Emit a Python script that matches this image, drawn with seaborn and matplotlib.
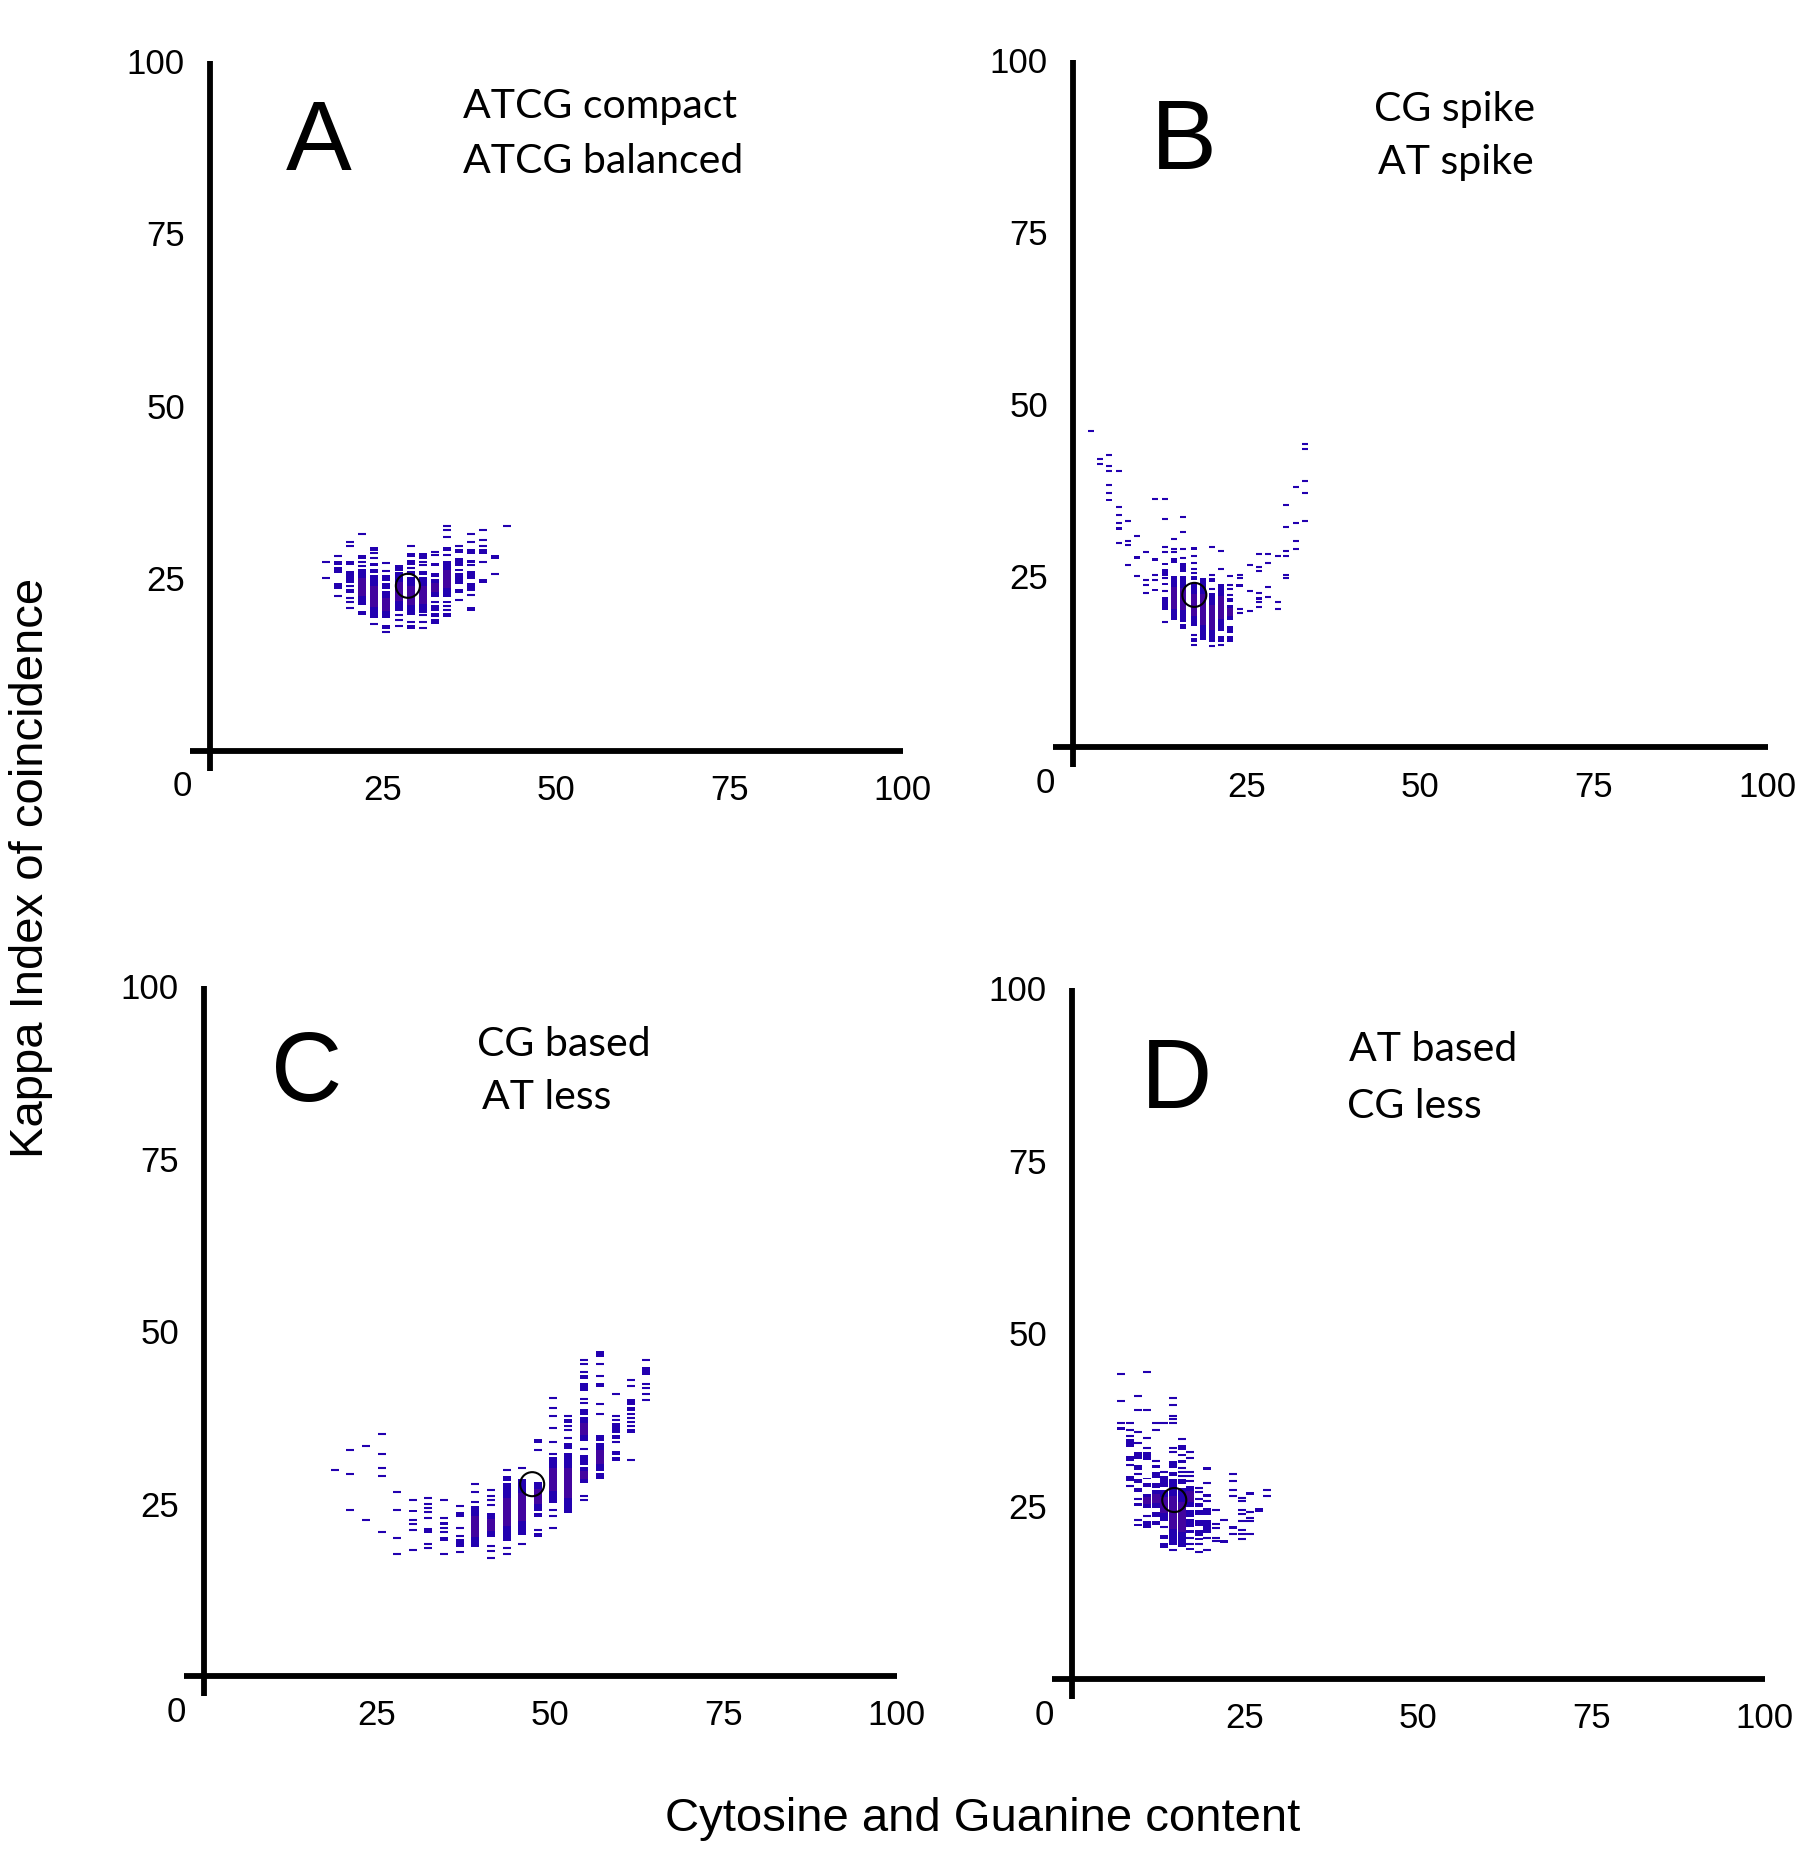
import matplotlib
matplotlib.use('Agg')
import matplotlib.pyplot as plt
import seaborn as sns

# --- data: one list of columns per panel; a float is one dash, a pair is a solid run of dashes
a_x = [16.8, 18.5, 20.2, 22.0, 23.7, 25.5, 27.3, 29.0, 30.8, 32.5, 34.2, 36.0, 37.7, 39.4, 41.2, 42.9]
a_y = [
    [27.4, 25.1],
    [28.2, [26.9, 27.5], [25.8, 26.6], [23.5, 24.3], 22.4],
    [30.2, 29.7, [26.9, 27.5], [24.3, 26.1], 23.9, [22.9, 23.4], 22.1, 21.5, 20.7],
    [31.4, [27.8, 28.3], 27.4, 26.8, [21.1, 26.3], [19.7, 20.3]],
    [[29.0, 29.5], 28.6, 28.0, [26.7, 27.2], [25.8, 26.3], [19.2, 25.5], 18.4],
    [27.2, 26.0, [24.6, 25.4], [23.4, 24.3], [19.2, 23.1], [17.7, 18.2], 17.2],
    [[26.1, 26.9], [20.3, 25.9], 19.6, 19.0, 18.1],
    [29.7, [28.1, 28.6], [26.9, 27.7], 26.5, [25.5, 26.1], [19.7, 25.2], 18.7, [17.6, 18.2]],
    [[27.8, 28.6], 27.4, 26.9, [25.5, 26.1], [20.0, 25.2], 19.6, 18.7, 17.8],
    [28.8, 28.3, [26.7, 27.2], [25.2, 25.8], [22.3, 24.9], 21.6, [20.3, 21.1], [19.4, 19.9], [18.3, 19.1]],
    [32.6, 32.0, 30.9, [29.0, 29.5], 28.3, [22.3, 27.5], [21.4, 21.7], 21.0, 20.4, [19.4, 19.9]],
    [29.7, [28.7, 29.2], [26.7, 28.0], [26.1, 26.3], [24.1, 25.7], [22.9, 23.4], 21.9],
    [31.4, 30.3, [28.5, 29.2], [27.2, 27.7], 26.9, [24.9, 26.1], [23.2, 24.3], 22.5, [20.3, 20.8]],
    [32.0, 30.6, 29.7, [28.5, 29.2], 27.4, [24.3, 24.9]],
    [[27.8, 28.3], 25.6],
    [32.6],
]
a_mean = (28.6, 23.9)

b_x = [2.6, 3.9, 5.2, 6.7, 8.0, 9.3, 10.6, 11.9, 13.3, 14.6, 15.9, 17.4,
       18.7, 20.0, 21.4, 22.7, 24.0, 25.5, 26.8, 28.1, 29.5, 30.7, 32.1, 33.4]
b_y = [
    [46.1],
    [42.0, 41.2],
    [42.6, 40.9, 40.3, 38.2, 37.1, [35.8, 36.2]],
    [40.3, 35.0, 33.9, 32.7, [31.7, 32.1], 29.8],
    [33.0, 30.1, 29.5, 26.6],
    [30.7, [27.4, 27.8], 24.9],
    [28.4, 24.3, 23.7, 22.5],
    [36.2, [27.1, 27.5], 25.1, 24.3, [22.7, 23.1]],
    [36.2, 33.3, 29.2, 28.4, [26.5, 26.9], [25.0, 26.0], 24.6, [23.6, 24.0], 22.8, [20.0, 21.9], 18.2],
    [30.4, 28.9, 28.4, [26.8, 27.5], [18.6, 24.9]],
    [33.6, 31.3, 28.9, 27.5, [25.6, 26.9], [18.3, 24.9], [17.2, 17.9]],
    [[28.8, 29.2], 27.8, 26.9, 26.0, 25.4, [24.4, 24.9], [17.6, 23.9], 16.4, [15.4, 15.9], 14.9],
    [[15.6, 24.6]],
    [29.2, 25.1, [24.1, 24.7], 23.1, [15.3, 22.5], 14.7],
    [28.6, 26.0, [16.9, 23.8], [15.4, 16.2], 14.9],
    [24.9, 23.7, 23.1, 22.2, [21.2, 21.7], [18.6, 20.8], [16.6, 17.6], [15.4, 16.2]],
    [25.1, 24.6, [23.3, 23.8], 20.2, 19.6],
    [26.6, 22.8, 19.9],
    [28.1, 26.3, 25.7, 22.5, [21.5, 21.9], 21.1, 20.5],
    [28.1, 26.9, 23.4, 21.9],
    [27.8, 21.1, 20.2],
    [35.3, 32.1, 28.6, 27.8, 25.1, 24.6],
    [37.9, 32.7, 30.1, 28.9],
    [44.1, 43.5, 38.8, 37.1, 33.0],
]
b_mean = (17.5, 22.2)

c_x = [18.9, 21.1, 23.4, 25.7, 27.9, 30.2, 32.4, 34.7, 37.0, 39.2, 41.5,
       43.7, 45.9, 48.2, 50.4, 52.6, 54.9, 57.2, 59.5, 61.7, 63.8]
c_y = [
    [29.9],
    [32.8, 29.3, 24.1],
    [33.4, 22.6],
    [35.1, 32.2, 30.2, 29.0, 20.9],
    [26.7, 24.1, 20.0, 17.7],
    [25.5, [23.8, 24.1], 22.6, 22.0, 21.2, 18.3],
    [25.8, 24.9, 24.4, 23.8, 22.9, [20.7, 21.5], 19.1, 18.6],
    [25.5, 22.9, [21.9, 22.3], 21.5, 20.9, [19.6, 20.1], 17.7],
    [24.7, [23.1, 23.8], 21.5, 20.3, [18.7, 19.8], 18.0],
    [27.8, 26.7, 25.2, [18.7, 24.7]],
    [27.0, 26.1, 25.5, 24.8, [20.2, 23.6], 18.9, 18.1, 17.1],
    [29.9, [28.3, 29.0], [19.6, 27.9], 18.6, 17.7],
    [30.2, [20.4, 28.6], 19.1],
    [[33.8, 34.4], 32.8, [23.9, 28.1], [23.1, 23.6], 21.2, [20.2, 20.7]],
    [40.3, 38.9, 37.7, 36.0, 33.9, 32.2, [25.1, 31.8], 24.1, 23.2, 21.5],
    [37.7, [36.7, 37.3], 36.2, 35.7, 34.5, [32.9, 33.8], [23.6, 32.3]],
    [45.8, 45.2, 44.1, [43.1, 43.6], [41.3, 42.5], 40.2, 39.6, [37.8, 38.7], [34.1, 37.5],
     32.9, [30.6, 32.0], [28.0, 30.3], 26.1, 25.5],
    [[46.2, 47.1], 45.2, 43.5, [41.9, 42.5], 39.4, 38.0, [34.1, 34.9], [29.7, 33.8], [28.6, 29.4]],
    [40.9, 37.7, 37.1, [35.2, 36.7], [34.3, 34.9], 33.9, [32.0, 32.6], [31.2, 31.8]],
    [42.9, 42.0, [39.3, 40.2], [38.4, 39.0], 38.0, 37.4, 36.8, 36.2, [35.2, 35.8], 31.3],
    [45.8, [43.6, 44.8], 42.3, 41.8, 40.9, 40.0],
]
c_mean = (47.4, 27.8)

d_x = [7.1, 8.4, 9.6, 10.9, 12.2, 13.3, 14.6, 15.9, 17.1, 18.3, 19.5, 20.8, 22.0, 23.3, 24.6, 25.7, 27.0, 28.2]
d_y = [
    [44.2, 40.2, 37.0, [36.0, 36.4]],
    [37.1, 36.1, 35.2, [33.6, 34.7], [31.6, 32.3], 31.0, [28.7, 29.4], 28.0],
    [40.9, 39.0, 35.8, 34.1, [31.9, 32.9], [30.3, 30.9], 29.7, [28.3, 28.9], [27.1, 27.7], 26.0,
     [25.1, 25.4], 23.0, [22.2, 22.5]],
    [44.5, 39.0, 34.9, 33.5, [31.7, 32.9], [28.9, 29.1], [27.8, 28.3], [24.8, 26.8], 23.6, [21.9, 22.8]],
    [37.0, 36.1, 31.5, [30.6, 30.9], [29.1, 30.0], [27.7, 28.3], [24.8, 27.4], [23.5, 24.2], [22.3, 22.9]],
    [37.0, 30.0, [27.8, 29.4], [22.9, 27.4], 22.0, [20.3, 20.9], [19.0, 19.7]],
    [40.7, 39.6, 38.1, 37.6, 37.0, 33.5, 32.9, [30.5, 31.5], [29.4, 30.0], [19.4, 28.9], 18.7],
    [34.7, [33.2, 33.8], [32.3, 32.6], [31.3, 31.7], 30.6, 30.0, 29.4, [28.2, 28.9], [19.1, 27.7]],
    [32.9, 32.0, 30.0, 29.4, 28.6, [24.9, 28.0], [23.5, 24.4], [22.0, 23.2], [21.2, 21.6], 20.4, 19.6,
     [18.6, 19.0]],
    [27.7, 27.1, 26.0, [24.9, 25.4], [23.8, 24.5], [22.2, 23.0], [20.7, 21.6], [20.1, 20.4], 19.6, 18.4],
    [[30.2, 30.7], 28.3, [26.4, 26.8], 25.7, [23.8, 24.8], [21.2, 23.0], 20.4, 18.7],
    [24.5, 22.5, 21.9, 20.4, 19.9],
    [23.0, [19.7, 20.1]],
    [29.7, 28.6, 27.4, 26.5, [21.7, 22.2], 21.0],
    [26.2, 25.7, 24.5, 23.9, 22.8, 21.6, 21.0, 20.2],
    [[26.7, 27.1], 24.2, 23.3, 22.8, 21.0],
    [[24.1, 24.7]],
    [27.4, 26.5],
]
d_mean = (14.8, 25.9)

letters = ['A', 'B', 'C', 'D']
notes = [['ATCG compact', 'ATCG balanced'], ['CG spike', 'AT spike'],
         ['CG based', 'AT less'], ['AT based', 'CG less']]
ticks = [25, 50, 75, 100]

# --- layout (pixels of the 1819x1867 picture)
W, H = 1819, 1867
BLUE = '#2200b0'
PURPLE = '#6a0a8c'

sns.set_theme(style='white')
plt.rcParams['font.family'] = ['Liberation Sans', 'DejaVu Sans']
plt.rcParams['text.color'] = 'black'

fig = plt.figure(figsize=(W / 100, H / 100), dpi=100)

# origin px, px per unit (x, y), dash width in units, letter pos, note pos (x, y1, x, y2)
panels = [
    (a_x, a_y, a_mean, (209.7, 750.7), (6.93, 6.90), 1.15, (11.0, 84.2), (36.6, 91.7, 36.6, 83.7)),
    (b_x, b_y, b_mean, (1072.7, 747.4), (6.95, 6.87), 0.87, (11.3, 84.2), (43.3, 91.2, 43.9, 83.5)),
    (c_x, c_y, c_mean, (203.7, 1676.0), (6.93, 6.90), 1.15, (9.7, 83.3), (39.4, 89.9, 40.1, 82.2)),
    (d_x, d_y, d_mean, (1071.7, 1679.0), (6.93, 6.91), 1.15, (10.0, 82.6), (40.0, 89.4, 39.7, 81.2)),
]

xlim = (-8, 106)
ylim = (-8, 106)

for i, (xs, cols, mean, org, sc, w, lpos, npos) in enumerate(panels):
    ox, oy = org
    sx, sy = sc
    rect = [(ox + xlim[0] * sx) / W,
            (H - (oy - ylim[0] * sy)) / H,
            (xlim[1] - xlim[0]) * sx / W,
            (ylim[1] - ylim[0]) * sy / H]
    ax = fig.add_axes(rect)
    ax.set_xlim(*xlim)
    ax.set_ylim(*ylim)
    ax.patch.set_alpha(0)

    single_x, single_y = [], []
    run_x, run_lo, run_h = [], [], []
    for x, col in zip(xs, cols):
        for v in col:
            if isinstance(v, list):
                run_x.append(x)
                run_lo.append(v[0])
                run_h.append(v[1] - v[0])
            else:
                single_x.append(x)
                single_y.append(v)

    ax.bar(run_x, run_h, bottom=run_lo, width=w, color=BLUE, linewidth=0, zorder=3)
    # denser core of long runs turns purple
    core = [(x, lo, h) for x, lo, h in zip(run_x, run_lo, run_h) if h >= 2.0]
    if core:
        ax.bar([c[0] for c in core], [c[2] * 0.5 for c in core],
               bottom=[c[1] + c[2] * 0.25 for c in core],
               width=w, color=PURPLE, alpha=0.45, linewidth=0, zorder=4)
    msize = (w * sx * 0.72) ** 2
    sns.scatterplot(x=single_x, y=single_y, marker='_', s=msize, color=BLUE,
                    linewidth=1.5, ax=ax, legend=False, zorder=3)
    sns.scatterplot(x=[mean[0]], y=[mean[1]], marker='o', s=300, facecolor='none',
                    edgecolor='black', linewidth=1.5, ax=ax, legend=False, zorder=6)

    # axes crossing at 0
    for side in ['top', 'right']:
        ax.spines[side].set_visible(False)
    ax.spines['left'].set_position(('data', 0))
    ax.spines['bottom'].set_position(('data', 0))
    ax.spines['left'].set_bounds(-2.9, 100)
    ax.spines['bottom'].set_bounds(-2.9, 100)
    for side in ['left', 'bottom']:
        ax.spines[side].set_linewidth(4.2)
        ax.spines[side].set_color('black')
        ax.spines[side].set_capstyle('butt')
    ax.set_xticks(ticks)
    ax.set_yticks(ticks)
    ax.set_xticklabels([str(t) for t in ticks])
    ax.set_yticklabels([str(t) for t in ticks])
    ax.tick_params(axis='both', direction='out', length=5.8, width=1.5, color='black',
                   labelsize=25, labelcolor='black')
    ax.tick_params(axis='x', pad=11)
    ax.tick_params(axis='y', pad=12)
    ax.annotate('0', xy=(0, 0), xytext=(-20, -26), textcoords='offset points',
                ha='center', va='center', fontsize=25, color='black')
    ax.set_xlabel('')
    ax.set_ylabel('')

    ax.text(lpos[0], lpos[1], letters[i], fontsize=71, ha='left', va='baseline', color='black')
    ax.text(npos[0], npos[1], notes[i][0], fontsize=29.5, ha='left', va='baseline',
            color='black', family=['Lato', 'DejaVu Sans'])
    ax.text(npos[2], npos[3], notes[i][1], fontsize=29.5, ha='left', va='baseline',
            color='black', family=['Lato', 'DejaVu Sans'])

fig.text(983 / W, 1 - 1819 / H, 'Cytosine and Guanine content', ha='center', va='center',
         fontsize=34, color='black')
fig.text(31 / W, 1 - 868 / H, 'Kappa Index of coincidence', ha='center', va='center',
         fontsize=34, rotation=90, color='black')

fig.savefig('out.png', dpi=100, facecolor='white')
